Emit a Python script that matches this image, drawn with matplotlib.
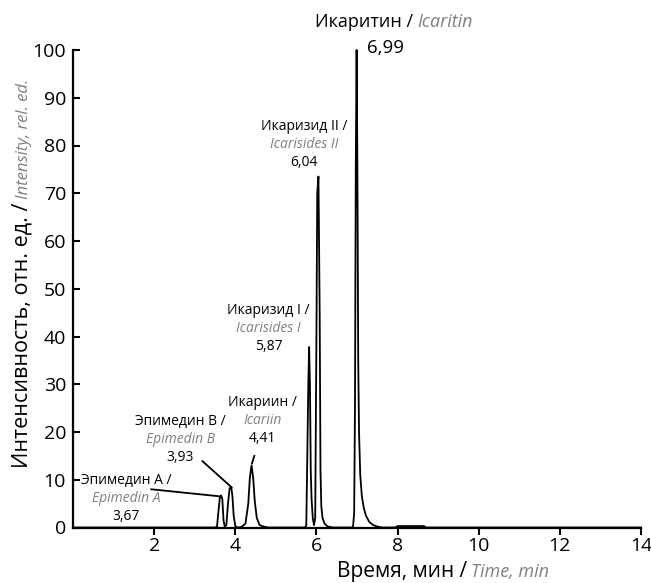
"""
Chromatogram of Epimedium flavonoids: intensity vs retention time,
with bilingual (RU / EN) peak labels.
"""

import matplotlib.pyplot as plt
from matplotlib.transforms import offset_copy

plt.rcParams['font.family'] = ['Open Sans', 'DejaVu Sans']

# trace (time, min / intensity, rel. units)
time = [0.00, 3.50, 3.55, 3.58, 3.62, 3.65, 3.68, 3.71, 3.74, 3.78, 3.82,
        3.86, 3.90, 3.93, 3.96, 4.00, 4.05, 4.15, 4.25, 4.32, 4.36, 4.40,
        4.44, 4.48, 4.53, 4.60, 4.70, 4.80, 5.72, 5.75, 5.77, 5.80, 5.82,
        5.84, 5.86, 5.88, 5.91, 5.94, 5.97, 6.00, 6.02, 6.05, 6.08, 6.10,
        6.12, 6.15, 6.20, 6.28, 6.40, 6.90, 6.93, 6.95, 6.97, 6.99, 7.01,
        7.03, 7.05, 7.08, 7.12, 7.17, 7.22, 7.30, 7.40, 7.50, 7.62, 7.95,
        8.00, 8.65, 8.70, 14.00]
intensity = [0.0, 0.0, 0.2, 3.0, 6.3, 6.7, 6.0, 1.5, 0.2, 0.5, 5.0,
             8.2, 8.5, 6.5, 2.5, 0.3, 0.0, 0.1, 0.8, 5.0, 10.5, 13.0,
             10.5, 5.5, 2.0, 0.5, 0.2, 0.0, 0.0, 0.5, 12.0, 30.0, 37.8,
             30.0, 12.0, 6.0, 2.0, 0.5, 2.0, 40.0, 70.0, 73.5, 45.0, 12.0,
             4.5, 2.0, 0.8, 0.2, 0.0, 0.0, 3.0, 25.0, 75.0, 100.0, 75.0,
             35.0, 20.0, 11.0, 6.5, 4.0, 2.5, 1.2, 0.5, 0.2, 0.0, 0.0,
             0.3, 0.3, 0.0, 0.0]

# peak labels
names_ru = ["Эпимедин А /", "Эпимедин В /", "Икариин /",
            "Икаризид I /", "Икаризид II /"]
names_en = ["Epimedin A", "Epimedin B", "Icariin",
            "Icarisides I", "Icarisides II"]
rt_labels = ["3,67", "3,93", "4,41", "5,87", "6,04"]

# label layout (centre x, y of first line) and leader lines
label_xy = [(1.31, 9.8), (2.65, 22.2), (4.67, 26.1), (4.82, 45.5), (5.70, 83.9)]
leaders = [((1.93, 8.0), (3.65, 6.5)),
           ((3.19, 13.9), (3.91, 8.4)),
           ((4.41, 13.4), (4.47, 15.0))]

GREY = "#808080"

fig = plt.figure(figsize=(6.51, 5.83), dpi=100)
ax = fig.add_axes([73 / 651, 55.5 / 583, 568 / 651, 477.5 / 583])

ax.plot(time, intensity, color="black", lw=1.3, clip_on=False)

ax.set_xlim(0, 14)
ax.set_ylim(0, 100)
ax.set_xticks(range(2, 15, 2))
ax.set_yticks(range(0, 101, 10))
for side in ("top", "right"):
    ax.spines[side].set_visible(False)
for side in ("left", "bottom"):
    ax.spines[side].set_linewidth(1.6)
ax.tick_params(axis="x", direction="out", length=5, width=1.5,
               labelsize=14, pad=2)
ax.tick_params(axis="y", direction="in", length=5, width=1.5,
               labelsize=14, pad=5)

# peak annotations, three lines each
line_step = 3.75
for (x, y), ru, en, rt in zip(label_xy, names_ru, names_en, rt_labels):
    ax.text(x, y, ru, ha="center", va="center", fontsize=10)
    ax.text(x, y - line_step, en, ha="center", va="center", fontsize=10,
            style="italic", color=GREY)
    ax.text(x, y - 2 * line_step, rt, ha="center", va="center", fontsize=10)

for (x0, y0), (x1, y1) in leaders:
    ax.plot([x0, x1], [y0, y1], color="black", lw=1.3)

# main peak title
ax.text(8.38, 104.8, "Икаритин /", ha="right", va="baseline",
        fontsize=13, clip_on=False)
ax.text(8.38, 104.8, "Icaritin", ha="left", va="baseline", fontsize=13,
        style="italic", color=GREY, clip_on=False,
        transform=offset_copy(ax.transData, fig=fig, x=3, units="points"))
ax.text(7.25, 99.3, "6,99", ha="left", va="baseline", fontsize=13.5,
        clip_on=False)

# axis labels, two colours each
fx, fy = 467 / 651, 6 / 583
fig.text(fx, fy, "Время, мин /", ha="right", va="baseline", fontsize=15)
fig.text(fx, fy, "Time, min", ha="left", va="baseline", fontsize=13,
         style="italic", color=GREY,
         transform=offset_copy(fig.transFigure, fig=fig, x=3, units="points"))

gx, gy = 28 / 651, (583 - 203) / 583
fig.text(gx, gy, "Интенсивность, отн. ед. /", rotation=90,
         rotation_mode="anchor", ha="right", va="baseline", fontsize=15.5)
fig.text(gx, gy, "Intensity, rel. ed.", rotation=90, rotation_mode="anchor",
         ha="left", va="baseline", fontsize=12, style="italic", color=GREY,
         transform=offset_copy(fig.transFigure, fig=fig, y=3, units="points"))

fig.savefig("out.png", dpi=100)
